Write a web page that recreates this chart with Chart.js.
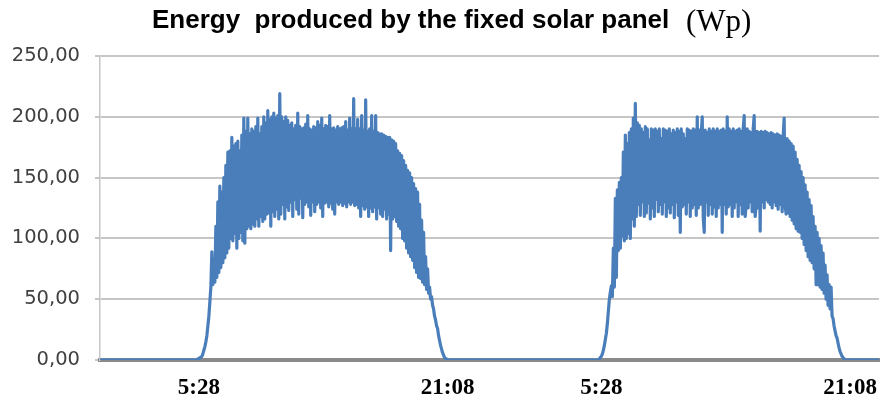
<!DOCTYPE html>
<html>
<head>
<meta charset="utf-8">
<script src="https://cdn.jsdelivr.net/npm/chart.js@4"></script>
<style>
  body { margin: 0; background: #fff; }
</style>
</head>
<body>
<canvas id="solarChart" width="883" height="401"></canvas>
<script>
// Title parts
const titleText = 'Energy  produced by the fixed solar panel';
const unitText = '(Wp)';

// Y axis ticks
const yTicks = [0, 50, 100, 150, 200, 250];

// X axis: one reading per sample, labels only at sunrise / sunset
const lastSample = 780;
const tickPositions = [99, 348, 502, 751];
const tickLabels = ['5:28', '21:08', '5:28', '21:08'];

// Day 1 readings (Wp), starting at sample 96
const dayOneStart = 96;
const dayOne = [
    0, 0, 1, 1, 2, 2, 3, 5, 8, 11, 15, 20, 28, 36, 48, 60,
    89, 62, 75, 64, 110, 68,
    130, 72, 143, 76, 138, 80, 150, 84, 160, 88, 171, 92,
    172, 100, 183, 98, 176, 104, 178, 92, 180, 100, 172, 105, 185, 98, 199, 96, 188, 108, 199, 110,
    186, 108, 190, 112, 188, 110, 192, 116, 199, 110, 186, 118, 192, 114, 200, 116, 195, 120, 205, 121,
    198, 110, 200, 122, 203, 118, 199, 124, 201, 116, 219, 120,
    200, 128, 196, 116, 200, 126, 197, 123, 193, 130, 195, 118, 190, 132, 193, 124, 203, 120, 192, 133,
    190, 117, 191, 128, 194, 130, 201, 126, 190, 119, 189, 130, 192, 122, 191, 128, 196, 130, 193, 125,
    199, 118, 190, 129, 193, 130, 192, 126, 201, 129, 190, 124, 191, 120, 189, 130, 192, 128, 190, 130,
    191, 127, 192, 129, 196, 126, 189, 130, 199, 128, 190, 130, 215, 127, 190, 128, 198, 125, 190, 118,
    201, 127, 189, 124, 214, 126, 188, 118, 190, 125, 201, 122, 188, 126, 201, 116, 187, 125, 186, 120,
    186, 118, 185, 124, 184, 116, 183, 120, 183, 90, 181, 116, 180, 118, 178, 114,
    172, 110, 170, 108, 168, 100, 164, 98, 160, 92, 156, 88, 154, 85, 150, 82, 145, 76, 141, 72,
    138, 68, 128, 67, 115, 64, 105, 62, 85, 58,
    75, 55, 60, 50, 52, 45, 42, 36, 33, 28, 26, 20, 16, 12, 9, 6, 4, 2, 1, 1, 0
];

// Day 2 readings (Wp), starting at sample 498
const dayTwoStart = 498;
const dayTwo = [
    0, 0, 1, 2, 3, 5, 8, 12, 17, 22, 30, 40, 50, 56,
    61, 52, 92, 60, 133, 68,
    140, 90, 146, 92, 150, 102, 171, 98, 185, 100, 178, 104,
    187, 100, 190, 116, 199, 110, 211, 118, 195, 128, 193, 119,
    190, 130, 187, 118, 192, 121, 190, 129, 181, 116, 190, 125, 189, 118, 190, 132, 188, 122, 190, 128,
    182, 120, 190, 130, 189, 118, 188, 125, 190, 121, 186, 128, 189, 117, 187, 130, 190, 119, 188, 105,
    190, 126, 186, 128, 182, 120, 190, 130, 189, 118, 188, 125, 190, 128, 189, 119,
    200, 125, 189, 128, 186, 200, 117, 105, 189, 130, 187, 119, 190, 128, 188, 120, 190, 126, 188, 118,
    190, 125, 188, 128, 189, 105, 190, 128, 188, 120, 200, 126, 190, 128, 188, 118, 190, 125, 188, 130,
    189, 118, 190, 128, 188, 120, 190, 201, 118, 128, 190, 125, 188, 130, 187, 122, 190, 201, 118, 128,
    188, 125, 187, 106, 188, 130, 187, 125, 188, 132, 187, 130, 186, 128, 187, 125, 186, 130, 185, 127,
    186, 124, 185, 128, 184, 122, 183, 199, 127, 120, 182, 121, 180, 118, 178, 115, 176, 112,
    171, 108, 165, 106, 160, 105, 155, 100, 150, 95, 144, 90, 138, 85, 132, 82, 127, 80, 118, 75,
    110, 62, 105, 62, 100, 60, 94, 58, 88,
    55, 78, 50, 70, 45, 62, 42, 60, 36, 34, 28, 24, 20, 18, 14, 10, 7, 5, 3, 2, 1, 0
];

function buildPoints() {
    const pts = [{ x: 0, y: 0 }];
    dayOne.forEach((v, k) => pts.push({ x: dayOneStart + k, y: v }));
    dayTwo.forEach((v, k) => pts.push({ x: dayTwoStart + k, y: v }));
    pts.push({ x: lastSample, y: 0 });
    return pts;
}

// Draw the title with the unit in a serif face
const titlePlugin = {
    id: 'panelTitle',
    afterDraw(chart) {
        const ctx = chart.ctx;
        ctx.save();
        ctx.fillStyle = '#000';
        ctx.textBaseline = 'alphabetic';
        ctx.font = 'bold 26px "Liberation Sans"';
        ctx.fillText(titleText, 152, 28);
        ctx.font = '31px "Liberation Serif"';
        ctx.fillText(unitText, 686, 31);
        ctx.restore();
    }
};

const ctx = document.getElementById('solarChart').getContext('2d');
new Chart(ctx, {
    type: 'line',
    data: {
        datasets: [{
            label: 'Energy',
            data: buildPoints(),
            borderColor: '#4a7ebb',
            borderWidth: 3.2,
            borderJoinStyle: 'round',
            pointRadius: 0,
            tension: 0,
            fill: false
        }]
    },
    options: {
        responsive: false,
        animation: false,
        devicePixelRatio: 1,
        layout: { padding: { top: 56, right: 3, left: 0, bottom: 0 } },
        plugins: {
            legend: { display: false },
            tooltip: { enabled: false }
        },
        scales: {
            x: {
                type: 'linear',
                min: 0,
                max: lastSample,
                afterBuildTicks: axis => {
                    axis.ticks = tickPositions.map(v => ({ value: v }));
                },
                afterFit: axis => { axis.height = 41; },
                grid: { display: false },
                border: { display: true, color: '#8a8a8a', width: 4 },
                ticks: {
                    autoSkip: false,
                    maxRotation: 0,
                    padding: 6,
                    color: '#000',
                    font: { family: '"Liberation Serif"', size: 23, weight: 'bold' },
                    callback: value => tickLabels[tickPositions.indexOf(value)]
                }
            },
            y: {
                min: 0,
                max: 250,
                afterBuildTicks: axis => {
                    axis.ticks = yTicks.map(v => ({ value: v }));
                },
                afterFit: axis => { axis.width = 100; },
                grid: { color: '#c6c6c6', lineWidth: 2, tickLength: 5 },
                border: { display: true, color: '#c6c6c6', width: 1.5 },
                ticks: {
                    padding: 15,
                    color: '#404040',
                    font: { family: '"DejaVu Sans"', size: 19.5 },
                    callback: value => value.toFixed(2).replace('.', ',')
                }
            }
        }
    },
    plugins: [titlePlugin]
});
</script>
</body>
</html>
